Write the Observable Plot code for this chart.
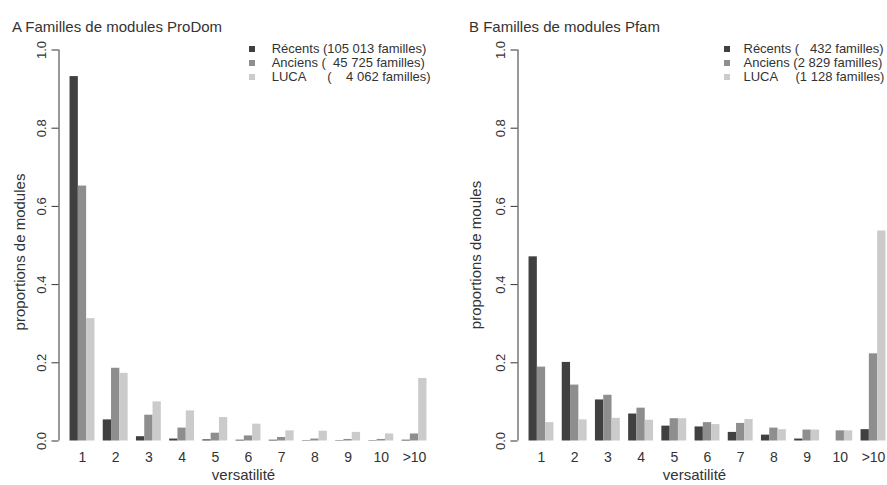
<!DOCTYPE html>
<html><head><meta charset="utf-8">
<script src="https://cdn.jsdelivr.net/npm/d3@7"></script>
<script src="https://cdn.jsdelivr.net/npm/@observablehq/plot@0.6"></script>
<style>
html,body{margin:0;padding:0;background:#fff;}
#wrap{position:relative;width:887px;height:485px;overflow:hidden;font-family:"Liberation Sans",Arial,sans-serif;color:#333;background:#fff;}
.panel{position:absolute;top:0;}
.panel svg{max-width:none !important;}
.title{position:absolute;font-size:15px;line-height:15px;white-space:pre;}
.ylab{position:absolute;font-size:15px;line-height:15px;white-space:pre;transform:translate(-50%,-50%) rotate(-90deg);}
.xlab{position:absolute;font-size:15px;line-height:17px;white-space:pre;transform:translateX(-50%);}
.legend{position:absolute;font-size:13px;line-height:14px;white-space:pre;}
.legend .row{display:flex;align-items:center;height:14px;}
.legend .sw{display:inline-block;width:6px;height:6px;flex:none;}
</style>
</head><body>
<div id="wrap"></div>
<script>
// ---- data ----
const groups = ["1", "2", "3", "4", "5", "6", "7", "8", "9", "10", ">10"];
const seriesNames = ["Récents", "Anciens", "LUCA"];
const seriesColors = ["#404040", "#8e8e8e", "#cbcbcb"];
const yTicks = [0, 0.2, 0.4, 0.6, 0.8, 1.0];

const prodomRecents = [0.932, 0.054, 0.011, 0.005, 0.003, 0.002, 0.002, 0.001, 0.001, 0.001, 0.002];
const prodomAnciens = [0.652, 0.186, 0.066, 0.033, 0.020, 0.013, 0.009, 0.005, 0.004, 0.004, 0.018];
const prodomLuca    = [0.313, 0.173, 0.100, 0.077, 0.060, 0.043, 0.026, 0.025, 0.022, 0.018, 0.160];

const pfamRecents = [0.471, 0.201, 0.105, 0.069, 0.038, 0.036, 0.022, 0.015, 0.005, 0.000, 0.029];
const pfamAnciens = [0.189, 0.143, 0.117, 0.084, 0.057, 0.047, 0.045, 0.033, 0.028, 0.026, 0.223];
const pfamLuca    = [0.047, 0.054, 0.058, 0.053, 0.057, 0.042, 0.055, 0.029, 0.028, 0.026, 0.537];

const titleProdom = "A Familles de modules ProDom";
const titlePfam = "B Familles de modules Pfam";
const legendProdom = ["Récents (105 013 familles)", "Anciens (  45 725 familles)", "LUCA      (    4 062 familles)"];
const legendPfam = ["Récents (   432 familles)", "Anciens (2 829 familles)", "LUCA     (1 128 familles)"];
const yLabelProdom = "proportions de modules";
const yLabelPfam = "proportions de moules";
const xLabel = "versatilité";

// ---- build ----
function rows(arrs) {
  const out = [];
  arrs.forEach((a, s) => a.forEach((v, g) => out.push({g, s, series: seriesNames[s], group: groups[g], value: v})));
  return out;
}

function panel(data, width, ml) {
  const xDomain = [-0.33, 45.33];
  return Plot.plot({
    width, height: 485,
    marginLeft: ml, marginRight: 5.5, marginTop: 49.5, marginBottom: 44.5,
    x: {domain: xDomain},
    y: {domain: [0, 1]},
    color: {domain: seriesNames, range: seriesColors},
    style: {fontFamily: "Liberation Sans, Arial, sans-serif", color: "#333", background: "transparent", overflow: "visible", maxWidth: "none"},
    marks: [
      Plot.rect(data, {x1: d => 4 * d.g + 1 + d.s, x2: d => 4 * d.g + 2 + d.s, y1: 0, y2: "value", fill: "series"}),
      Plot.ruleX([xDomain[0]], {stroke: "#333"}),
      Plot.axisY({ticks: yTicks, tickFormat: d3.format(".1f"), tickRotate: -90, tickSize: 7, tickPadding: 6, fontSize: 13, stroke: "#333", label: null}),
      Plot.axisX({ticks: groups.map((_, i) => 4 * i + 2.5), tickFormat: d => groups[Math.round((d - 2.5) / 4)], tickSize: 0, tickPadding: 11, fontSize: 14, label: null})
    ]
  });
}

const wrap = document.getElementById("wrap");
function addPanel(left, width, plot) {
  const d = document.createElement("div");
  d.className = "panel"; d.style.left = left + "px"; d.style.width = width + "px";
  d.appendChild(plot); wrap.appendChild(d);
}
function addText(cls, text, x, y) {
  const d = document.createElement("div");
  d.className = cls; d.textContent = text;
  d.style.left = x + "px"; d.style.top = y + "px";
  wrap.appendChild(d);
}
function addLegend(items, x, y, gap) {
  const d = document.createElement("div");
  d.className = "legend"; d.style.left = x + "px"; d.style.top = y + "px";
  items.forEach((t, i) => {
    const r = document.createElement("div"); r.className = "row";
    const s = document.createElement("span"); s.className = "sw"; s.style.background = seriesColors[i]; s.style.marginRight = gap + "px";
    const tx = document.createElement("span"); tx.textContent = t;
    r.appendChild(s); r.appendChild(tx); d.appendChild(r);
  });
  wrap.appendChild(d);
}

addPanel(0, 443, panel(rows([prodomRecents, prodomAnciens, prodomLuca]), 443, 58.5));
addPanel(443, 459, panel(rows([pfamRecents, pfamAnciens, pfamLuca]), 459, 74.5));

addText("title", titleProdom, 12, 19);
addText("title", titlePfam, 469, 19);
addText("ylab", yLabelProdom, 18.5, 252);
addText("ylab", yLabelPfam, 475, 255);
addText("xlab", xLabel, 243.5, 466);
addText("xlab", xLabel, 694.5, 466);
addLegend(legendProdom, 249, 41.5, 16.7);
addLegend(legendPfam, 723.5, 41.5, 14);
</script>
</body></html>
